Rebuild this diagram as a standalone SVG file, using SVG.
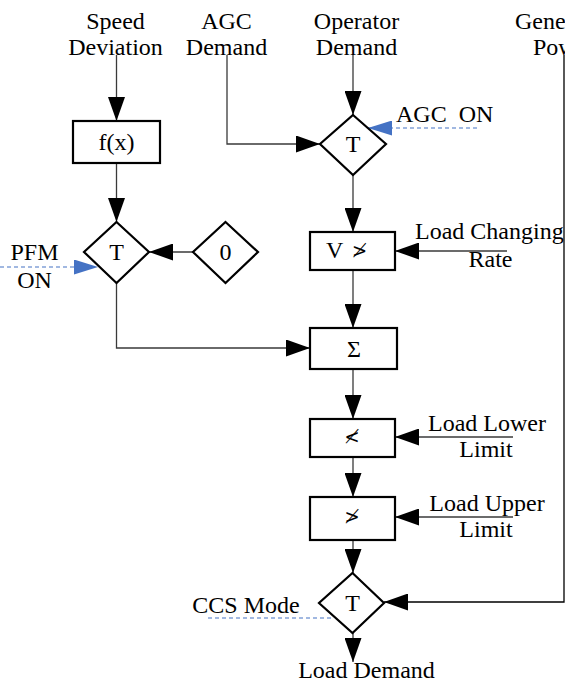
<svg xmlns="http://www.w3.org/2000/svg" width="565" height="684" viewBox="0 0 565 684">
<defs>
<style>
text{font-family:'Liberation Serif','Times New Roman',serif;font-size:24px;fill:#000}
.m{text-anchor:middle}
.box{fill:#fff;stroke:#000;stroke-width:2.2}
.c{fill:none;stroke:#3a3a3a;stroke-width:1.3}
.d{fill:none;stroke:#4472C4;stroke-width:1.2;stroke-dasharray:4,3}
.g{font-family:'DejaVu Serif',serif;font-size:18px}
</style>
<marker id="ah" markerUnits="userSpaceOnUse" markerWidth="24" markerHeight="17" refX="24" refY="8.5" orient="auto"><path d="M0,0 L24,8.5 L0,17 z" fill="#000"/></marker>
<marker id="bh" markerUnits="userSpaceOnUse" markerWidth="24" markerHeight="15" refX="24" refY="7.5" orient="auto"><path d="M0,0 L24,7.5 L0,15 z" fill="#4472C4"/></marker>
</defs>
<rect width="565" height="684" fill="#fff"/>
<g id="connectors">
<path class="c" d="M116.5,55 V121" marker-end="url(#ah)"/>
<path class="c" d="M116.5,163 V222" marker-end="url(#ah)"/>
<path class="c" d="M193,252 H149" marker-end="url(#ah)"/>
<path class="c" d="M116.5,283 V348 H310" marker-end="url(#ah)"/>
<path class="c" d="M227,55 V144 H320" marker-end="url(#ah)"/>
<path class="c" d="M353,55 V115" marker-end="url(#ah)"/>
<path class="c" d="M353,175 V232" marker-end="url(#ah)"/>
<path class="c" d="M507,251 H395" marker-end="url(#ah)"/>
<path class="c" d="M353,270 V328" marker-end="url(#ah)"/>
<path class="c" d="M353,369 V419" marker-end="url(#ah)"/>
<path class="c" d="M513,437 H395" marker-end="url(#ah)"/>
<path class="c" d="M353,457 V497" marker-end="url(#ah)"/>
<path class="c" d="M513,517 H395" marker-end="url(#ah)"/>
<path class="c" d="M353,540 V573" marker-end="url(#ah)"/>
<path class="c" d="M564,55 V602 H384" marker-end="url(#ah)" style="stroke:#000"/>
<path class="c" d="M353,633 V662" marker-end="url(#ah)"/>
<path class="d" d="M0,267 H98" marker-end="url(#bh)"/>
<path class="d" d="M477,128 H368" marker-end="url(#bh)"/>
<path class="d" d="M208,618 H333"/>
</g>
<g id="labels">
<text class="m" x="115.5" y="29">Speed</text>
<text class="m" x="115.5" y="55">Deviation</text>
<text class="m" x="226.5" y="29">AGC</text>
<text class="m" x="226.5" y="55">Demand</text>
<text class="m" x="356.5" y="29">Operator</text>
<text class="m" x="356.5" y="55">Demand</text>
<text x="515" y="29">Generator</text>
<text x="533" y="55">Power</text>
<text x="396" y="122" xml:space="preserve">AGC  ON</text>
<text class="m" x="34.5" y="260">PFM</text>
<text class="m" x="34.5" y="288">ON</text>
<text x="415" y="239">Load Changing</text>
<text class="m" x="490.5" y="267">Rate</text>
<text class="m" x="487" y="431">Load Lower</text>
<text class="m" x="486" y="457">Limit</text>
<text class="m" x="487" y="511">Load Upper</text>
<text class="m" x="486" y="537">Limit</text>
<text class="m" x="246" y="613">CCS Mode</text>
<text class="m" x="366.5" y="678">Load Demand</text>
</g>
<g id="fx"><rect class="box" x="73" y="121" width="87" height="42"/><text class="m" x="116.5" y="150">f(x)</text></g>
<g id="switch-pfm"><path class="box" d="M116.5,222 L149,252 L116.5,283 L84,252 Z"/><text class="m" x="116.5" y="260">T</text></g>
<g id="zero"><path class="box" d="M225.5,222 L258,252 L225.5,283 L193,252 Z"/><text class="m" x="225.5" y="260">0</text></g>
<g id="switch-agc"><path class="box" d="M353,115 L386,144 L353,175 L320,144 Z"/><text class="m" x="353" y="152">T</text></g>
<g id="rate-limit"><rect class="box" x="310" y="232" width="85" height="38"/><text x="326" y="258">V</text><text class="g" x="352" y="257">≯</text></g>
<g id="sum"><rect class="box" x="310" y="328" width="87" height="41"/><text class="m" x="354" y="357">Σ</text></g>
<g id="low-limit"><rect class="box" x="310" y="419" width="85" height="38"/><text class="m g" x="352" y="443">≮</text></g>
<g id="high-limit"><rect class="box" x="310" y="497" width="85" height="43"/><text class="m g" x="352" y="523">≯</text></g>
<g id="switch-ccs"><path class="box" d="M352.5,573 L384,603 L352.5,633 L319,603 Z"/><text class="m" x="352.5" y="611">T</text></g>
</svg>
